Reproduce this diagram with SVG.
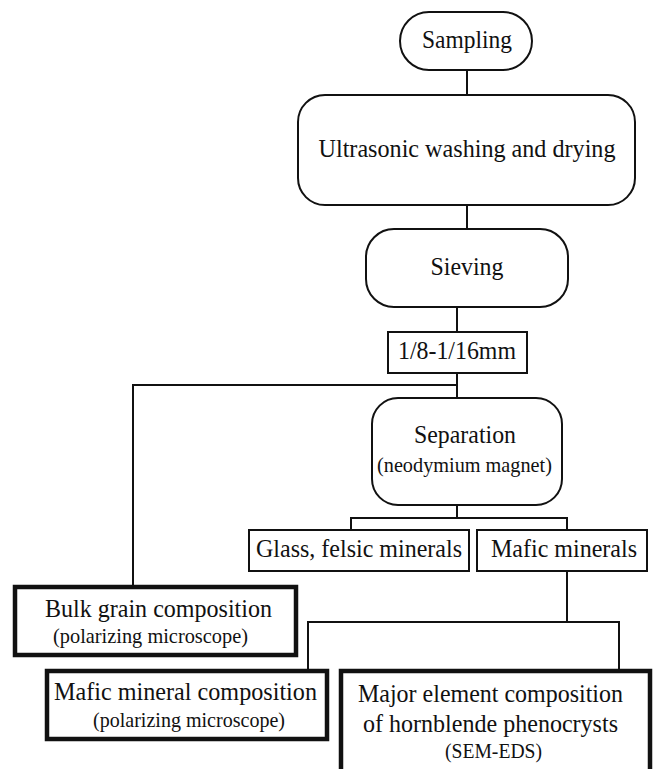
<svg xmlns="http://www.w3.org/2000/svg" width="656" height="769" viewBox="0 0 656 769">
<rect width="656" height="769" fill="#fff"/>
<g id="connectors" fill="none" stroke="#111" stroke-width="2">
<path d="M467 70V95"/>
<path d="M467 205V229"/>
<path d="M457 307V332"/>
<path d="M457 373V398"/>
<path d="M457 385H133V587"/>
<path d="M457 505V518"/>
<path d="M351 530V518H567V530"/>
<path d="M567 571V622"/>
<path d="M308 671V622H619V671"/>
</g>
<g font-family="Liberation Serif" fill="#111" text-anchor="middle">
<g id="sampling">
<rect x="400" y="12" width="132" height="58" rx="29" fill="#fff" stroke="#111" stroke-width="2"/>
<text font-size="26" x="467" y="48" textLength="90" lengthAdjust="spacingAndGlyphs">Sampling</text>
</g>
<g id="washing">
<rect x="298" y="95" width="337" height="110" rx="27" fill="#fff" stroke="#111" stroke-width="2"/>
<text font-size="26" x="467" y="157" textLength="297" lengthAdjust="spacingAndGlyphs">Ultrasonic washing and drying</text>
</g>
<g id="sieving">
<rect x="366" y="229" width="202" height="78" rx="28" fill="#fff" stroke="#111" stroke-width="2"/>
<text font-size="26" x="467" y="275" textLength="73" lengthAdjust="spacingAndGlyphs">Sieving</text>
</g>
<g id="size">
<rect x="388" y="332" width="139" height="41" fill="#fff" stroke="#111" stroke-width="2"/>
<text font-size="26" x="457" y="359" textLength="118" lengthAdjust="spacingAndGlyphs">1/8-1/16mm</text>
</g>
<g id="separation">
<rect x="372" y="398" width="190" height="107" rx="26" fill="#fff" stroke="#111" stroke-width="2"/>
<text font-size="26" x="465" y="443" textLength="102" lengthAdjust="spacingAndGlyphs">Separation</text>
<text font-size="22" x="464.5" y="472" textLength="175" lengthAdjust="spacingAndGlyphs">(neodymium magnet)</text>
</g>
<g id="glass">
<rect x="249" y="530" width="220" height="41" fill="#fff" stroke="#111" stroke-width="2"/>
<text font-size="26" x="359" y="557" textLength="206" lengthAdjust="spacingAndGlyphs">Glass, felsic minerals</text>
</g>
<g id="mafic">
<rect x="477" y="530" width="170" height="41" fill="#fff" stroke="#111" stroke-width="2"/>
<text font-size="26" x="564" y="557" textLength="146" lengthAdjust="spacingAndGlyphs">Mafic minerals</text>
</g>
<g id="bulk">
<rect x="15" y="587" width="281" height="68" fill="#fff" stroke="#111" stroke-width="4.5"/>
<text font-size="26" x="158.5" y="617" textLength="227" lengthAdjust="spacingAndGlyphs">Bulk grain composition</text>
<text font-size="22" x="150.5" y="643" textLength="195" lengthAdjust="spacingAndGlyphs">(polarizing microscope)</text>
</g>
<g id="maficcomp">
<rect x="47" y="671" width="280" height="68" fill="#fff" stroke="#111" stroke-width="4.5"/>
<text font-size="26" x="185.5" y="700" textLength="263" lengthAdjust="spacingAndGlyphs">Mafic mineral composition</text>
<text font-size="22" x="189" y="727" textLength="192" lengthAdjust="spacingAndGlyphs">(polarizing microscope)</text>
</g>
<g id="major">
<rect x="341" y="671" width="309" height="110" fill="#fff" stroke="#111" stroke-width="4.5"/>
<text font-size="26" x="490.5" y="702" textLength="265" lengthAdjust="spacingAndGlyphs">Major element composition</text>
<text font-size="26" x="490.5" y="732" textLength="255" lengthAdjust="spacingAndGlyphs">of hornblende phenocrysts</text>
<text font-size="22" x="493.5" y="758" textLength="97" lengthAdjust="spacingAndGlyphs">(SEM-EDS)</text>
</g>
</g>
</svg>
